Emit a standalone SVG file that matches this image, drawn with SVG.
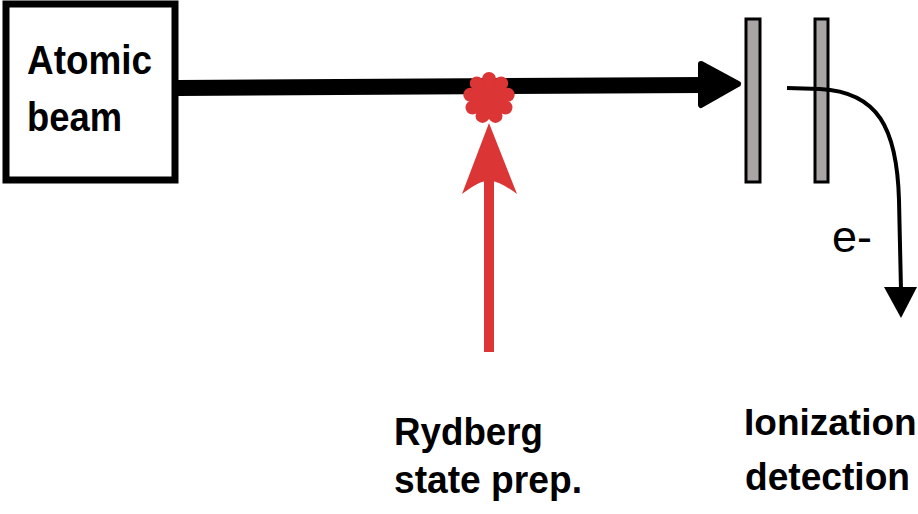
<svg xmlns="http://www.w3.org/2000/svg" width="918" height="514" viewBox="0 0 918 514">
<style>
.lbl{font-family:"Liberation Sans",Arial,sans-serif;font-weight:bold;font-size:39px;fill:#000}
.big{font-size:41px}
.ion{font-size:37px}
.plate{fill:#aaa5a5;stroke:#000;stroke-width:3}
.red{fill:#dc3535}
</style>
<rect width="918" height="514" fill="#fff"/>
<g id="atomic-beam">
<rect x="6" y="4" width="169" height="176" fill="#fff" stroke="#000" stroke-width="7"/>
<text class="lbl big" x="27" y="74" textLength="125" lengthAdjust="spacingAndGlyphs">Atomic</text>
<text class="lbl big" x="27" y="131" textLength="95" lengthAdjust="spacingAndGlyphs">beam</text>
</g>
<g id="plates">
<rect class="plate" x="746" y="19" width="14" height="163"/>
<rect class="plate" x="815" y="19" width="13" height="163"/>
</g>
<g id="connectors">
<line x1="178" y1="88" x2="704" y2="85" stroke="#000" stroke-width="16"/>
<polygon points="701,64 738,84 701,105" fill="#000" stroke="#000" stroke-width="6" stroke-linejoin="round"/>
<path d="M787,88 L820,89 C878,92 897,128 899,200 L901,290" fill="none" stroke="#000" stroke-width="4"/>
<polygon points="884,287 917,287 901,318" fill="#000"/>
<rect class="red" x="484" y="180" width="10" height="172"/>
<path class="red" d="M489,123 L517,194 Q495,178 489,182 Q483,178 462,194 Z"/>
</g>
<g id="rydberg-excitation" class="red">
<circle cx="489" cy="98" r="17"/>
<circle cx="489" cy="79" r="7"/>
<circle cx="501.2" cy="83.4" r="7"/>
<circle cx="507.7" cy="94.7" r="7"/>
<circle cx="505.5" cy="107.5" r="7"/>
<circle cx="495.5" cy="115.9" r="7"/>
<circle cx="482.5" cy="115.9" r="7"/>
<circle cx="472.5" cy="107.5" r="7"/>
<circle cx="470.3" cy="94.7" r="7"/>
<circle cx="476.8" cy="83.4" r="7"/>
</g>
<g id="electron-label">
<text x="832" y="252" font-family="Liberation Sans,Arial,sans-serif" font-size="44" textLength="40" lengthAdjust="spacingAndGlyphs">e-</text>
</g>
<g id="rydberg-label">
<text class="lbl" x="394" y="445" textLength="149" lengthAdjust="spacingAndGlyphs">Rydberg</text>
<text class="lbl" x="394" y="493" textLength="188" lengthAdjust="spacingAndGlyphs">state prep.</text>
</g>
<g id="ionization-label">
<text class="lbl ion" x="744" y="435">Ionization</text>
<text class="lbl" x="745" y="490" textLength="165" lengthAdjust="spacingAndGlyphs">detection</text>
</g>
</svg>
